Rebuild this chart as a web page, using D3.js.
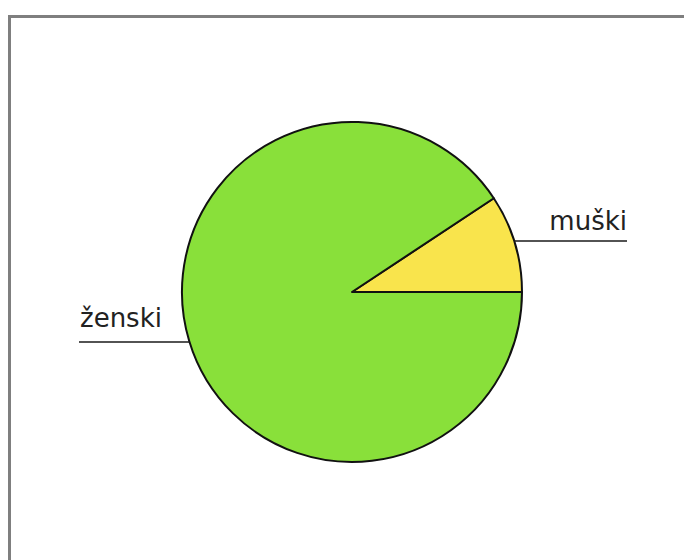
<!DOCTYPE html>
<html>
<head>
<meta charset="utf-8">
<script src="https://cdn.jsdelivr.net/npm/d3@7"></script>
<style>
  body { margin: 0; background: white; }
</style>
</head>
<body>
<div id="pie"></div>
<script>
const labels = ["muški", "ženski"];
const values = [9.3, 90.7];
const colors = ["#f9e44c", "#89e03a"];

const width = 684, height = 560;
const cx = 352, cy = 292, radius = 170;

const svg = d3.select("#pie").append("svg")
  .attr("width", width)
  .attr("height", height)
  .style("background", "white");

// frame
svg.append("rect")
  .attr("x", 9.5).attr("y", 16.5)
  .attr("width", 700).attr("height", 600)
  .attr("fill", "none")
  .attr("stroke", "#7f7f7f")
  .attr("stroke-width", 3);

const data = labels.map((l, i) => ({label: l, value: values[i], color: colors[i]}));

// first slice starts at 3 o'clock and runs counter-clockwise
const pie = d3.pie()
  .sort(null)
  .value(d => d.value)
  .startAngle(Math.PI / 2)
  .endAngle(Math.PI / 2 - 2 * Math.PI);

const arc = d3.arc().innerRadius(0).outerRadius(radius);
const arcs = pie(data);

const g = svg.append("g").attr("transform", `translate(${cx},${cy})`);

g.selectAll("path")
  .data(arcs)
  .enter()
  .append("path")
  .attr("d", arc)
  .attr("fill", d => d.data.color)
  .attr("stroke", "#111")
  .attr("stroke-width", 2)
  .attr("stroke-linejoin", "round");

// labels with underline leader
arcs.forEach(a => {
  const mid = (a.startAngle + a.endAngle) / 2;
  const right = Math.sin(mid) > 0;
  const ly = right ? -51 : 50;
  const lineEnd = right ? 275 : -273;
  const edgeX = Math.sqrt(radius * radius - ly * ly) * (right ? 1 : -1);
  g.append("line")
    .attr("x1", edgeX).attr("y1", ly)
    .attr("x2", lineEnd).attr("y2", ly)
    .attr("stroke", "#1a1a1a")
    .attr("stroke-width", 1.5);
  g.append("text")
    .attr("x", right ? lineEnd : lineEnd + 1)
    .attr("y", ly - (right ? 11 : 15))
    .attr("text-anchor", right ? "end" : "start")
    .style("font-family", "DejaVu Sans")
    .style("font-size", "26px")
    .style("fill", "#222")
    .text(a.data.label);
});
</script>
</body>
</html>
